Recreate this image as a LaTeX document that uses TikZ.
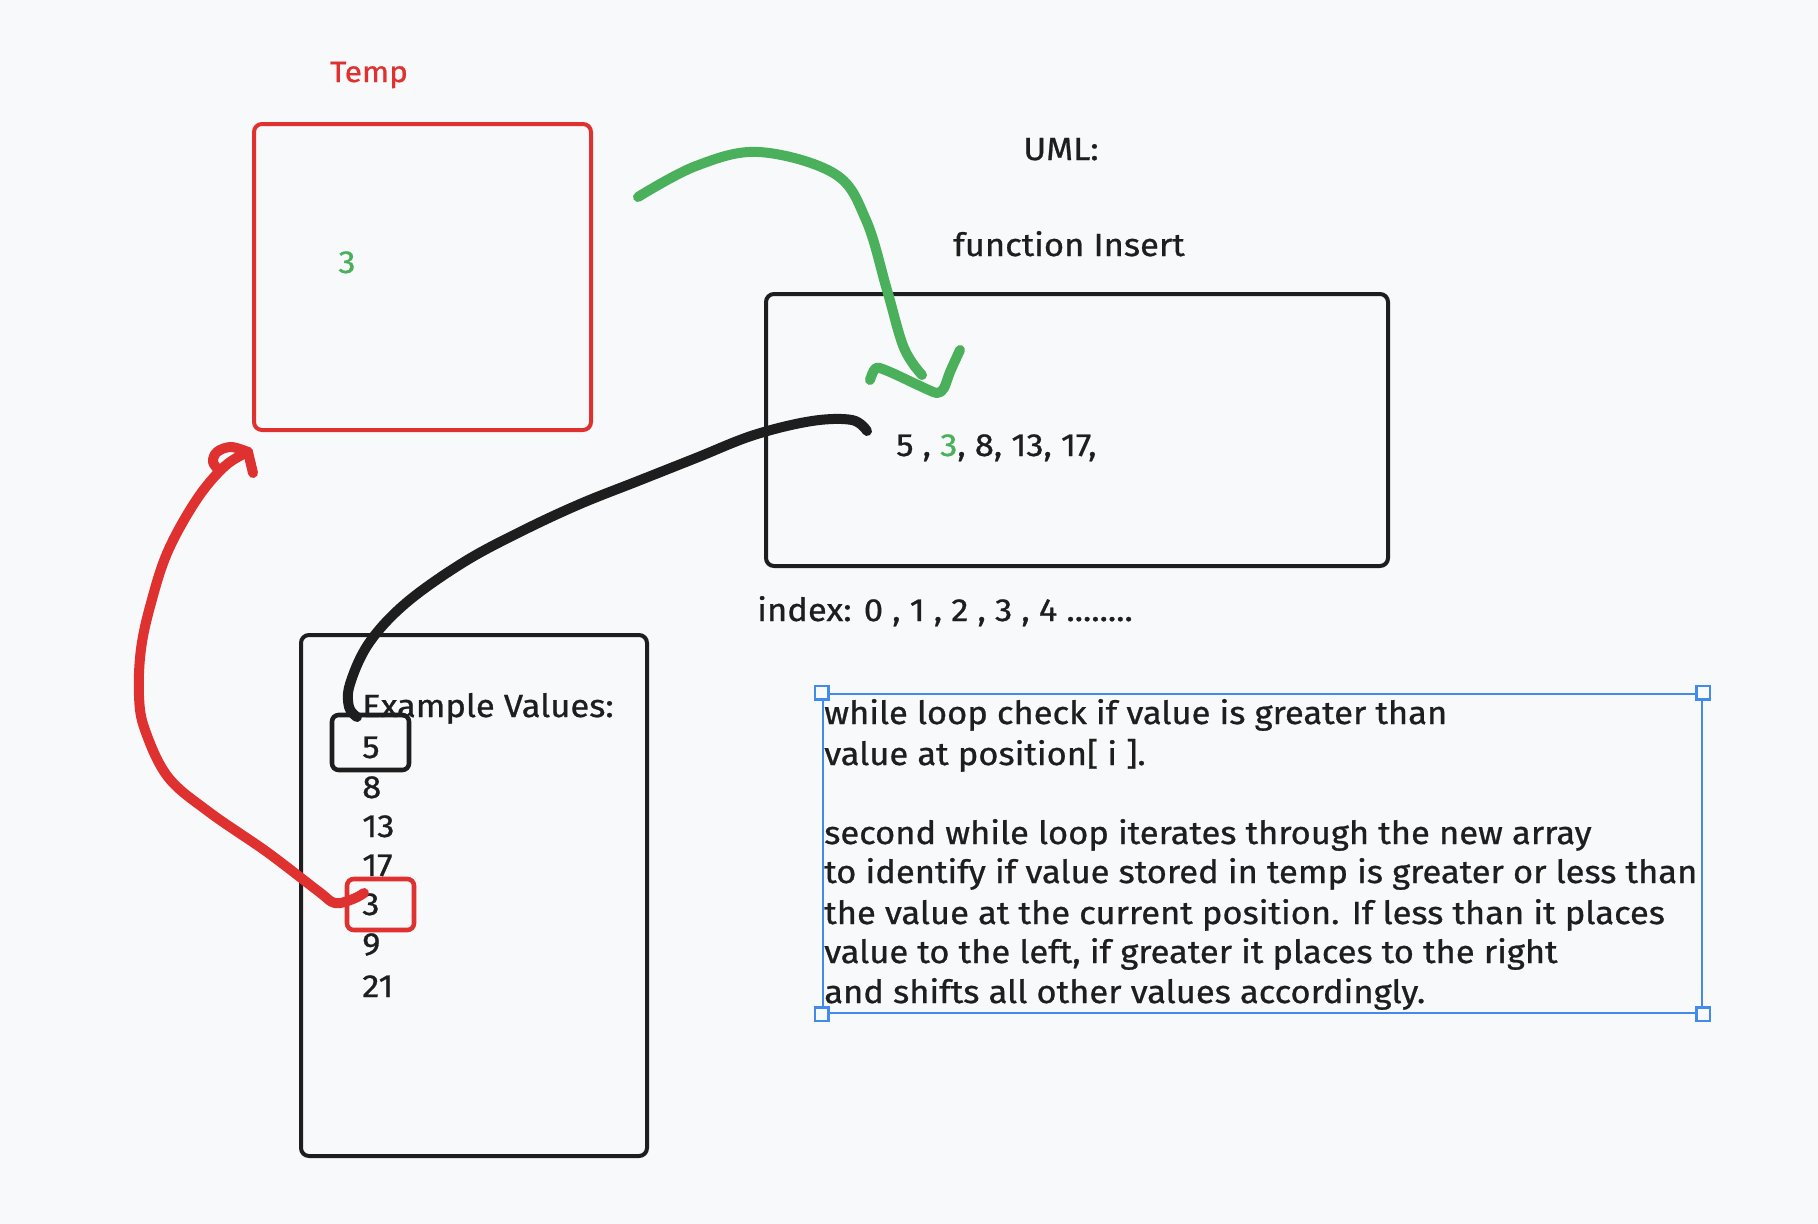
\documentclass[tikz,border=0pt]{standalone}
\usepackage{fontspec}
\setmainfont{Fira Sans}[FakeStretch=1.08, FakeBold=0.8]
\usetikzlibrary{fit}
\definecolor{bg}{RGB}{248,249,251}
\definecolor{inkred}{RGB}{224,49,49}
\definecolor{inkgreen}{RGB}{74,176,92}
\definecolor{ink}{RGB}{30,30,30}
\definecolor{selblue}{RGB}{66,138,235}
\tikzset{
  x=0.75pt, y=-0.75pt,
  frame/.style={draw=#1, line width=3pt, rounded corners=6pt, inner sep=0pt},
  smallframe/.style={draw=#1, line width=3.4pt, rounded corners=5pt, inner sep=0pt},
  stroke/.style={draw=#1, line width=7.5pt, line cap=round, line join=round},
  label/.style={inner sep=0pt, font=\fontsize{24}{28}\selectfont, text=ink},
  handle/.style={draw=selblue, fill=bg, line width=1.6pt, minimum size=10pt, inner sep=0pt},
}
\begin{document}
\begin{tikzpicture}
\useasboundingbox[fill=bg] (0,0) rectangle (1818,1224);

% Temp register
\node[label, text=inkred, font=\fontsize{22}{26}\selectfont, anchor=base] (templbl) at (369,82) {Temp};
\node[frame=inkred, fit={(254,124) (591,430)}] (temp) {};
\node[label, text=inkgreen, anchor=base] (tempval) at (347,273) {3};

% Insert function box
\node[label, anchor=base] (uml) at (1061,160) {UML:};
\node[label, anchor=base] (fname) at (1069,256) {function Insert};
\node[frame=ink, fit={(766,294) (1388,566)}] (insert) {};
\node[label, anchor=base west] (arr) at (896,456) {5 , \textcolor{inkgreen}{3}, 8, 13, 17,};
\node[label, anchor=base west] (idx) at (757,621) {index: 0 , 1 , 2 , 3 , 4 ........};

% Example values box
\node[frame=ink, fit={(301,635) (647,1156)}] (values) {};
\node[label, anchor=base west] (vtitle) at (362,717) {Example Values:};
\node[label, anchor=base west] (v1) at (362,758) {5};
\node[label, anchor=base west] (v2) at (362,798) {8};
\node[label, anchor=base west] (v3) at (362,837) {13};
\node[label, anchor=base west] (v4) at (362,876) {17};
\node[label, anchor=base west] (v5) at (362,915) {3};
\node[label, anchor=base west] (v6) at (362,955) {9};
\node[label, anchor=base west] (v7) at (362,997) {21};
\node[smallframe=ink, fit={(332,715) (409,770)}] (pick5) {};
\node[smallframe=inkred, fit={(347,879) (414,930)}] (pick3) {};

% Notes with selection frame
\node[draw=selblue, line width=1.8pt, inner sep=0pt, fit={(823,694) (1702,1013)}] (notes) {};
\foreach \c in {north west, north east, south west, south east}
  \node[handle] at (notes.\c) {};
\node[label, anchor=base west] (n1) at (824,724) {while loop check if value is greater than};
\node[label, anchor=base west] (n2) at (824,765) {value at position[ i ].};
\node[label, anchor=base west] (n3) at (824,844) {second while loop iterates through the new array};
\node[label, anchor=base west] (n4) at (824,883) {to identify if value stored in temp is greater or less than};
\node[label, anchor=base west] (n5) at (824,924) {the value at the current position. If less than it places};
\node[label, anchor=base west] (n6) at (824,963) {value to the left, if greater it places to the right};
\node[label, anchor=base west] (n7) at (824,1003) {and shifts all other values accordingly.};

% Connector end points
\coordinate (gstart) at (638,197);
\coordinate (gend) at (922,375);
\coordinate (kstart) at (867,431);
\coordinate (kend) at (357,717);
\coordinate (rstart) at (364,893);
\coordinate (rend) at (248,452);

% Green stroke: temp value into the array
\draw[stroke=inkgreen] plot[smooth, tension=0.6] coordinates {
  (gstart) (696,166) (759,152) (835,174) (866,220) (887,290) (904,348) (gend)};
\draw[stroke=inkgreen] plot[smooth, tension=0.5] coordinates {
  (870,380) (876,368) (890,372) (920,386) (937,393) (944,388) (950,372) (960,350)};

% Black stroke: first element into the array
\draw[stroke=ink] plot[smooth, tension=0.6] coordinates {
  (kstart) (852,420) (812,421) (754,435) (696,458) (638,481) (580,504)
  (522,531) (464,562) (406,603) (369,643) (350,684) (349,707) (kend)};

% Red stroke: value lifted into temp
\draw[stroke=inkred] plot[smooth, tension=0.6] coordinates {
  (rstart) (353,899) (335,903) (318,891) (267,852) (209,812) (168,777)
  (145,730) (139,696) (141,649) (151,603) (168,551) (197,499) (225,466) (rend)};
\draw[stroke=inkred] plot[smooth, tension=0.6] coordinates {
  (219,470) (213,462) (217,452) (231,447) (rend)};
\draw[stroke=inkred] (rend) -- (253,473);
\end{tikzpicture}
\end{document}
